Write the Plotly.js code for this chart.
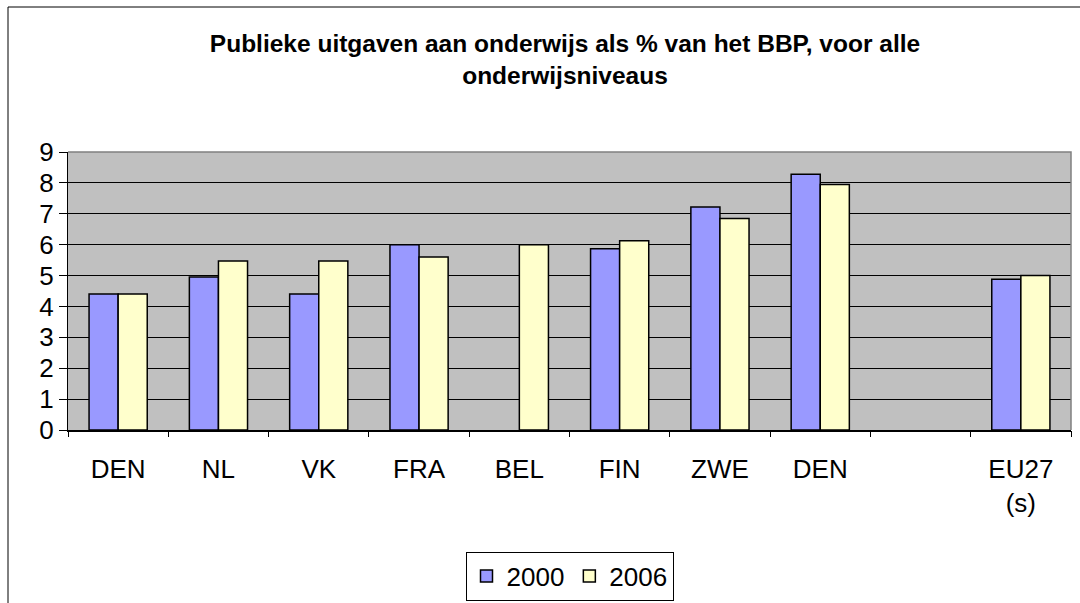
<!DOCTYPE html>
<html>
<head>
<meta charset="utf-8">
<script src="https://cdn.plot.ly/plotly-3.0.1.min.js"></script>
<style>
  html, body { margin: 0; padding: 0; background: #fff; }
  #plot { width: 1080px; height: 603px; }
</style>
</head>
<body>
<div id="plot"></div>
<script>
// categories (DEN appears twice, one slot is empty)
var labels = ["DEN", "NL", "VK", "FRA", "BEL", "FIN", "ZWE", "DEN", "", "EU27<br>(s)"];
var pos = [0, 1, 2, 3, 4, 5, 6, 7, 8, 9];

var y2000 = [4.4, 4.95, 4.4, 6.0, null, 5.87, 7.22, 8.28, null, 4.88];
var y2006 = [4.4, 5.47, 5.47, 5.6, 6.0, 6.13, 6.85, 7.95, null, 5.0];

var font = "Liberation Sans, Arial, sans-serif";

var trace1 = {
  x: pos,
  y: y2000,
  name: "2000",
  type: "bar",
  marker: { color: "#9999FF", line: { color: "#000", width: 1.5 } }
};

var trace2 = {
  x: pos,
  y: y2006,
  name: "2006",
  type: "bar",
  marker: { color: "#FFFFCC", line: { color: "#000", width: 1.5 } }
};

// empty trace so the boundary tick axis gets drawn
var tickTrace = {
  x: [], y: [], xaxis: "x2", yaxis: "y",
  type: "scatter", showlegend: false, hoverinfo: "skip"
};

var data = [trace1, trace2, tickTrace];

// plot area in pixels: 68..1071 x 152..430
var ml = 68, mr = 9, mt = 152, mb = 173;
var pw = 1080 - ml - mr, ph = 603 - mt - mb;

var layout = {
  width: 1080,
  height: 603,
  margin: { l: ml, r: mr, t: mt, b: mb, autoexpand: false },
  paper_bgcolor: "#fff",
  plot_bgcolor: "#C0C0C0",
  font: { family: font, color: "#000" },
  title: {
    text: "<b>Publieke uitgaven aan onderwijs als % van het BBP, voor alle<br>onderwijsniveaus</b>",
    font: { family: font, size: 24.5, color: "#000" },
    x: 565 / 1080,
    xanchor: "center",
    y: 1 - 52 / 603,
    yanchor: "top"
  },
  barmode: "group",
  bargap: 0.42,
  bargroupgap: 0,
  xaxis: {
    range: [-0.5, 9.5],
    tickmode: "array",
    tickvals: pos,
    ticktext: labels,
    ticks: "",
    ticklabelstandoff: 15,
    showgrid: false,
    zeroline: false,
    showline: true,
    linecolor: "#000",
    linewidth: 1.5,
    tickfont: { family: font, size: 26, color: "#000" },
    fixedrange: true
  },
  xaxis2: {
    overlaying: "x",
    anchor: "y",
    side: "bottom",
    range: [-0.5, 9.5],
    tickmode: "array",
    tickvals: [-0.5, 0.5, 1.5, 2.5, 3.5, 4.5, 5.5, 6.5, 7.5, 8.5, 9.5],
    ticks: "outside",
    ticklen: 6,
    tickcolor: "#000",
    tickwidth: 1,
    showticklabels: false,
    showgrid: false,
    zeroline: false,
    showline: false
  },
  yaxis: {
    range: [0, 9],
    dtick: 1,
    ticks: "outside",
    ticklen: 8,
    tickcolor: "#000",
    showgrid: true,
    gridcolor: "#000",
    gridwidth: 1,
    zeroline: false,
    showline: true,
    linecolor: "#000",
    linewidth: 1,
    tickfont: { family: font, size: 26, color: "#000" },
    fixedrange: true
  },
  legend: {
    orientation: "h",
    x: 0.5,
    xanchor: "center",
    y: (430 - 576) / ph,
    yanchor: "middle",
    bgcolor: "#fff",
    bordercolor: "#000",
    borderwidth: 1,
    font: { family: font, size: 26, color: "#000" }
  },
  shapes: [
    // grey border on top and right of the plot area
    {
      type: "path", xref: "paper", yref: "paper",
      path: "M 0,1 L 1,1 L 1,0",
      line: { color: "#808080", width: 1.5 },
      layer: "above"
    },
    // outer chart frame
    {
      type: "rect", xref: "paper", yref: "paper",
      x0: (8 - ml) / pw, x1: 1.2,
      y0: -1, y1: (430 - 7) / ph,
      line: { color: "#000", width: 1 },
      fillcolor: "rgba(0,0,0,0)",
      layer: "below"
    }
  ]
};

Plotly.newPlot("plot", data, layout, { displayModeBar: false, staticPlot: true });
</script>
</body>
</html>
